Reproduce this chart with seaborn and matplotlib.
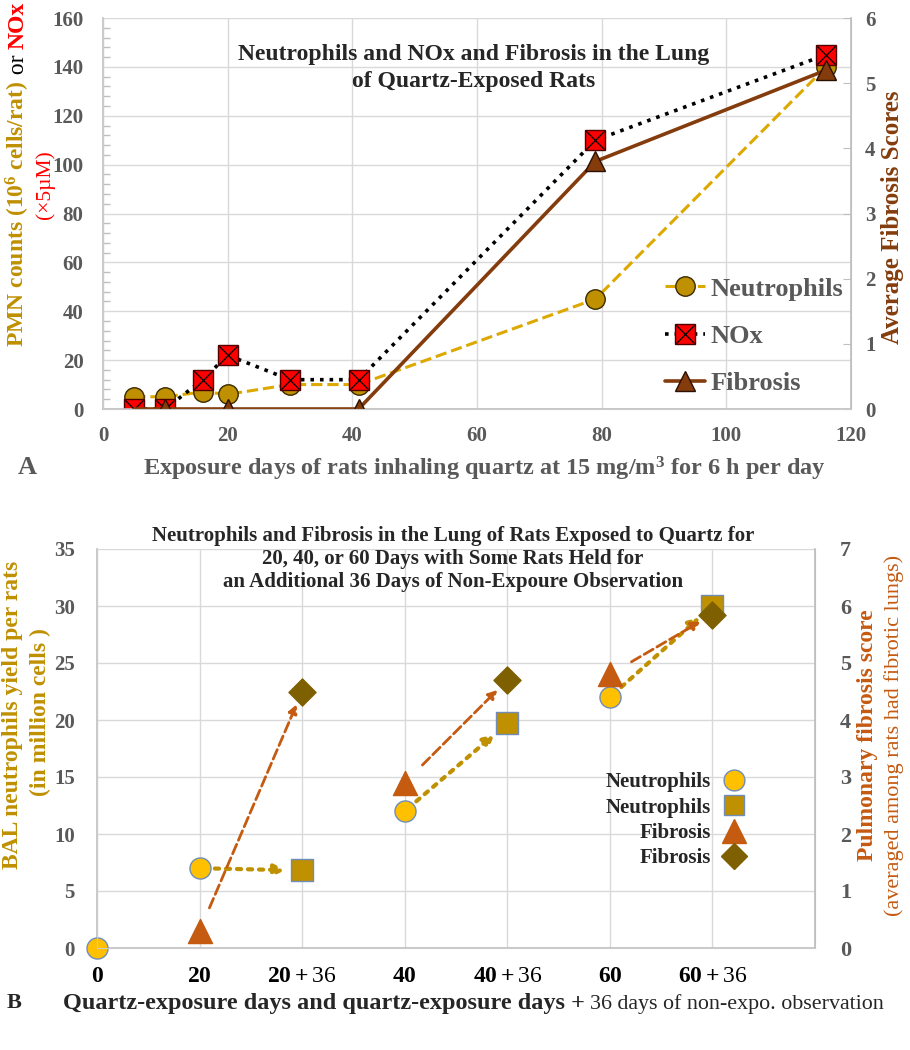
import matplotlib
matplotlib.use("Agg")
import matplotlib.pyplot as plt
import matplotlib.ticker as ticker
from matplotlib.lines import Line2D
from matplotlib.legend_handler import HandlerTuple
import seaborn as sns

# ---------------------------------------------------------------
# data
# ---------------------------------------------------------------
# panel A: exposure days vs counts
days_neut = [5, 10, 16, 20, 30, 41, 79, 116]
neutrophils = [5, 5, 7, 6, 10, 10, 45, 140]
days_nox = [5, 10, 16, 20, 30, 41, 79, 116]
nox = [0, 0, 12, 22, 12, 12, 110, 145]
days_fib = [5, 10, 20, 41, 79, 116]
fibrosis = [0, 0, 0, 0, 3.8, 5.2]

# panel B: categorical exposure groups
groups_b = ["0", "20", "20+36", "40", "40+36", "60", "60+36", ""]
neut_exp_groups = ["0", "20", "40", "60"]
neut_exp = [0, 7, 12, 22]
neut_hold_groups = ["20+36", "40+36", "60+36"]
neut_hold = [6.8, 19.7, 30]
fib_exp_groups = ["20", "40", "60"]
fib_exp = [0.3, 2.9, 4.8]
fib_hold_groups = ["20+36", "40+36", "60+36"]
fib_hold = [4.5, 4.7, 5.85]

# ---------------------------------------------------------------
# style
# ---------------------------------------------------------------
sns.set_style("whitegrid")
plt.rcParams["font.family"] = ["Liberation Serif", "DejaVu Serif"]
plt.rcParams["font.weight"] = "bold"
plt.rcParams["mathtext.fontset"] = "custom"
plt.rcParams["mathtext.rm"] = "Liberation Serif"
plt.rcParams["mathtext.bf"] = "Liberation Serif:bold"
plt.rcParams["mathtext.it"] = "Liberation Serif:italic"

GRAY = "#595959"
GRID = "#D9D9D9"
SPINE = "#BFBFBF"
GOLD_LINE = "#DDA900"
GOLD_MK = "#BF9000"
BROWN = "#843C0C"
RED = "#FF0000"
YELLOW = "#FFC000"
ORANGE = "#C55A11"
OLIVE = "#7F6000"
EDGE_B = "#6F8DB8"

fig = plt.figure(figsize=(9.1, 10.5), dpi=100)
W, H = 910.0, 1050.0


def px(x, y):
    return x / W, 1 - y / H


def stack_text(pieces, x, y, rotation=0, gap=0):
    """Put text pieces one after another (left->right or bottom->top)."""
    renderer = fig.canvas.get_renderer()
    cx, cy = px(x, y)
    for s, kw in pieces:
        if rotation == 90:
            t = fig.text(cx, cy, s, rotation=90, ha="center", va="bottom", **kw)
            bb = t.get_window_extent(renderer)
            cy = (bb.y1 + gap) / fig.bbox.height
        else:
            t = fig.text(cx, cy, s, ha="left", va="baseline", **kw)
            bb = t.get_window_extent(renderer)
            cx = (bb.x1 + gap) / fig.bbox.width


def style_axes(ax):
    ax.grid(True, color=GRID, lw=1)
    ax.set_axisbelow(True)
    for side in ["left", "bottom", "right"]:
        ax.spines[side].set_color(SPINE)
        ax.spines[side].set_linewidth(1.2)
    ax.spines["top"].set_visible(False)


# =========================================================================
# PANEL A
# =========================================================================
axA = fig.add_axes([103 / W, 1 - 409 / H, 748 / W, 391 / H])
axA2 = axA.twinx()

sns.lineplot(x=days_neut, y=neutrophils, ax=axA, color=GOLD_LINE, linestyle="--",
             lw=2.2, marker="o", markersize=14, markerfacecolor=GOLD_MK,
             markeredgecolor="#3A2A00", markeredgewidth=1)
sns.lineplot(x=days_nox, y=nox, ax=axA, color="black", linestyle=":", lw=2.6,
             marker="s", markersize=14, markerfacecolor=RED,
             markeredgecolor="#500000", markeredgewidth=1)
sns.scatterplot(x=days_nox, y=nox, ax=axA, marker="x", color="black", s=170,
                linewidth=0.9, zorder=5)
sns.lineplot(x=days_fib, y=fibrosis, ax=axA2, color=BROWN, lw=2.6, marker="^",
             markersize=15, markerfacecolor=BROWN, markeredgecolor="#2A1000",
             markeredgewidth=1, markevery=[1, 2, 3, 4, 5])

axA.set_xlim(0, 120)
axA.set_ylim(0, 160)
axA2.set_ylim(0, 6)
axA.set_xticks(range(0, 121, 20))
axA.set_yticks(range(0, 161, 20))
axA2.set_yticks(range(0, 7))
axA.xaxis.set_minor_locator(ticker.MultipleLocator(5))
axA.yaxis.set_minor_locator(ticker.MultipleLocator(4))
style_axes(axA)
axA2.grid(False)
axA2.spines["top"].set_visible(False)
axA2.spines["right"].set_color(SPINE)
axA.tick_params(axis="both", which="major", labelsize=15, labelcolor=GRAY,
                color=SPINE, length=0)
axA.tick_params(axis="x", which="major", pad=12)
axA.tick_params(axis="y", which="major", pad=14)
axA.tick_params(axis="both", which="minor", direction="in", length=5,
                color=SPINE, width=1)
axA2.tick_params(axis="y", labelsize=15, labelcolor=GRAY, color=SPINE,
                 direction="in", length=6, pad=10)
axA.set_xlabel("")
axA.set_ylabel("")

h_neut = Line2D([], [], color=GOLD_LINE, ls="--", lw=2.2, marker="o", ms=14,
                mfc=GOLD_MK, mec="#3A2A00")
h_nox = (Line2D([], [], color="black", ls=":", lw=2.6, marker="s", ms=14,
                mfc=RED, mec="#500000"),
         Line2D([], [], ls="", marker="x", ms=13, color="black", mew=0.9))
h_fib = Line2D([], [], color=BROWN, lw=2.6, marker="^", ms=15, mfc=BROWN,
               mec="#2A1000")
axA2.legend([h_neut, h_nox, h_fib], ["Neutrophils", "NOx", "Fibrosis"],
            handler_map={tuple: HandlerTuple(ndivide=1)},
            loc="upper left", bbox_to_anchor=(0.752, 0.337), frameon=False,
            borderpad=0, borderaxespad=0, handlelength=1.5, handletextpad=0.2,
            labelspacing=0.9, prop={"size": 19, "weight": "bold"},
            labelcolor=GRAY)

fig.text(*px(474, 68), "Neutrophils and NOx and Fibrosis in the Lung\nof Quartz-Exposed Rats",
         ha="center", va="center", fontsize=17, linespacing=1.35)
fig.text(*px(484, 469), r"Exposure days of rats inhaling quartz at 15 mg/m$^{\mathbf{3}}$ for 6 h per day",
         ha="center", va="center", fontsize=17.5, color=GRAY)
fig.text(*px(27, 468), "A", ha="center", va="center", fontsize=19, color=GRAY)
fig.text(*px(893, 217), "Average Fibrosis Scores", rotation=90, ha="center",
         va="center", fontsize=18, color=BROWN)
stack_text([(r"PMN counts (10$^{\mathbf{6}}$ cells/rat)", dict(fontsize=17, color=GOLD_MK)),
            (" or ", dict(fontsize=17, color="black", fontweight="normal")),
            ("NOx", dict(fontsize=17, color=RED))], 18, 347, rotation=90)
fig.text(*px(45, 185), "(×5µM)", rotation=90, ha="center", va="center",
         fontsize=15.5, color=RED, fontweight="normal")

# =========================================================================
# PANEL B
# =========================================================================
axB = fig.add_axes([97 / W, 1 - 948 / H, 718 / W, 399 / H])
axB2 = axB.twinx()

pos = {g: i for i, g in enumerate(groups_b)}
sns.scatterplot(x=[pos[g] for g in neut_exp_groups], y=neut_exp, ax=axB,
                marker="o", s=230, color=YELLOW, edgecolor=EDGE_B, linewidth=1,
                zorder=4, clip_on=False)
sns.scatterplot(x=[pos[g] for g in neut_hold_groups], y=neut_hold, ax=axB,
                marker="s", s=230, color=GOLD_MK, edgecolor=EDGE_B, linewidth=1,
                zorder=4)
sns.scatterplot(x=[pos[g] for g in fib_exp_groups], y=fib_exp, ax=axB2,
                marker="^", s=300, color=ORANGE, edgecolor=ORANGE, linewidth=1,
                zorder=4)
sns.scatterplot(x=[pos[g] for g in fib_hold_groups], y=fib_hold, ax=axB2,
                marker="D", s=190, color=OLIVE, edgecolor=OLIVE, linewidth=1,
                zorder=4)

# arrows from exposure end to end of observation period
for g0, y0, g1, y1 in zip(neut_exp_groups[1:], neut_exp[1:], neut_hold_groups, neut_hold):
    axB.annotate("", xy=(pos[g1], y1), xytext=(pos[g0], y0),
                 arrowprops=dict(arrowstyle="-|>", color=GOLD_MK, lw=3, ls=":",
                                 mutation_scale=16, shrinkA=11, shrinkB=12))
for g0, y0, g1, y1 in zip(fib_exp_groups, fib_exp, fib_hold_groups, fib_hold):
    axB2.annotate("", xy=(pos[g1], y1), xytext=(pos[g0], y0),
                  arrowprops=dict(arrowstyle="-|>", color=ORANGE, lw=2, ls="--",
                                  mutation_scale=13, shrinkA=18, shrinkB=10))

axB.set_xlim(0, len(groups_b) - 1)
axB.set_ylim(0, 35)
axB2.set_ylim(0, 7)
axB.set_yticks(range(0, 36, 5))
axB2.set_yticks(range(0, 8))
axB.set_xticks(range(len(groups_b)))
xlabels = []
for g in groups_b:
    if "+" in g:
        a, b = g.split("+")
        xlabels.append(r"$\mathbf{%s+}$%s" % (a, b))
    else:
        xlabels.append(r"$\mathbf{%s}$" % g if g else "")
axB.set_xticklabels(xlabels, fontweight="normal")
style_axes(axB)
axB2.grid(False)
axB2.spines["top"].set_visible(False)
axB2.spines["right"].set_color(SPINE)
axB.tick_params(axis="x", labelsize=17, labelcolor="black", color=SPINE,
                length=3, pad=10)
axB.tick_params(axis="y", labelsize=15, labelcolor=GRAY, length=0, pad=16)
axB2.tick_params(axis="y", labelsize=16, labelcolor=GRAY, length=0, pad=18)
axB.set_xlabel("")
axB.set_ylabel("")
axB2.set_ylabel("")

legB = [Line2D([], [], ls="", marker="o", ms=15, mfc=YELLOW, mec=EDGE_B),
        Line2D([], [], ls="", marker="s", ms=15, mfc=GOLD_MK, mec=EDGE_B),
        Line2D([], [], ls="", marker="^", ms=17, mfc=ORANGE, mec=ORANGE),
        Line2D([], [], ls="", marker="D", ms=13, mfc=OLIVE, mec=OLIVE)]
axB2.legend(legB, ["Neutrophils", "Neutrophils", "Fibrosis", "Fibrosis"],
            loc="upper right", bbox_to_anchor=(0.905, 0.44), frameon=False,
            markerfirst=False, borderpad=0, borderaxespad=0, handlelength=1.2,
            handletextpad=0.5, labelspacing=0.25, prop={"size": 15, "weight": "bold"})

fig.text(*px(453, 559), "Neutrophils and Fibrosis in the Lung of Rats Exposed to Quartz for\n"
         "20, 40, or 60 Days with Some Rats Held for\n"
         "an Additional 36 Days of Non-Expoure Observation",
         ha="center", va="center", fontsize=15, linespacing=1.2)
fig.text(*px(14, 1003), "B", ha="center", va="center", fontsize=16)
stack_text([("Quartz-exposure days and quartz-exposure days +", dict(fontsize=17.5)),
            ("36 days of non-expo. observation", dict(fontsize=15.8, fontweight="normal"))],
           63, 1009, gap=5)
fig.text(*px(13, 715), "BAL neutrophils yield per rats", rotation=90, ha="center",
         va="center", fontsize=17, color=GOLD_MK)
fig.text(*px(40, 712), "(in million cells )", rotation=90, ha="center",
         va="center", fontsize=17, color=GOLD_MK)
fig.text(*px(868, 735), "Pulmonary fibrosis score", rotation=90, ha="center",
         va="center", fontsize=17, color=ORANGE)
fig.text(*px(894, 735), "(averaged among rats had fibrotic lungs)", rotation=90,
         ha="center", va="center", fontsize=16, color=ORANGE, fontweight="normal")

fig.savefig("out.png", dpi=100)
